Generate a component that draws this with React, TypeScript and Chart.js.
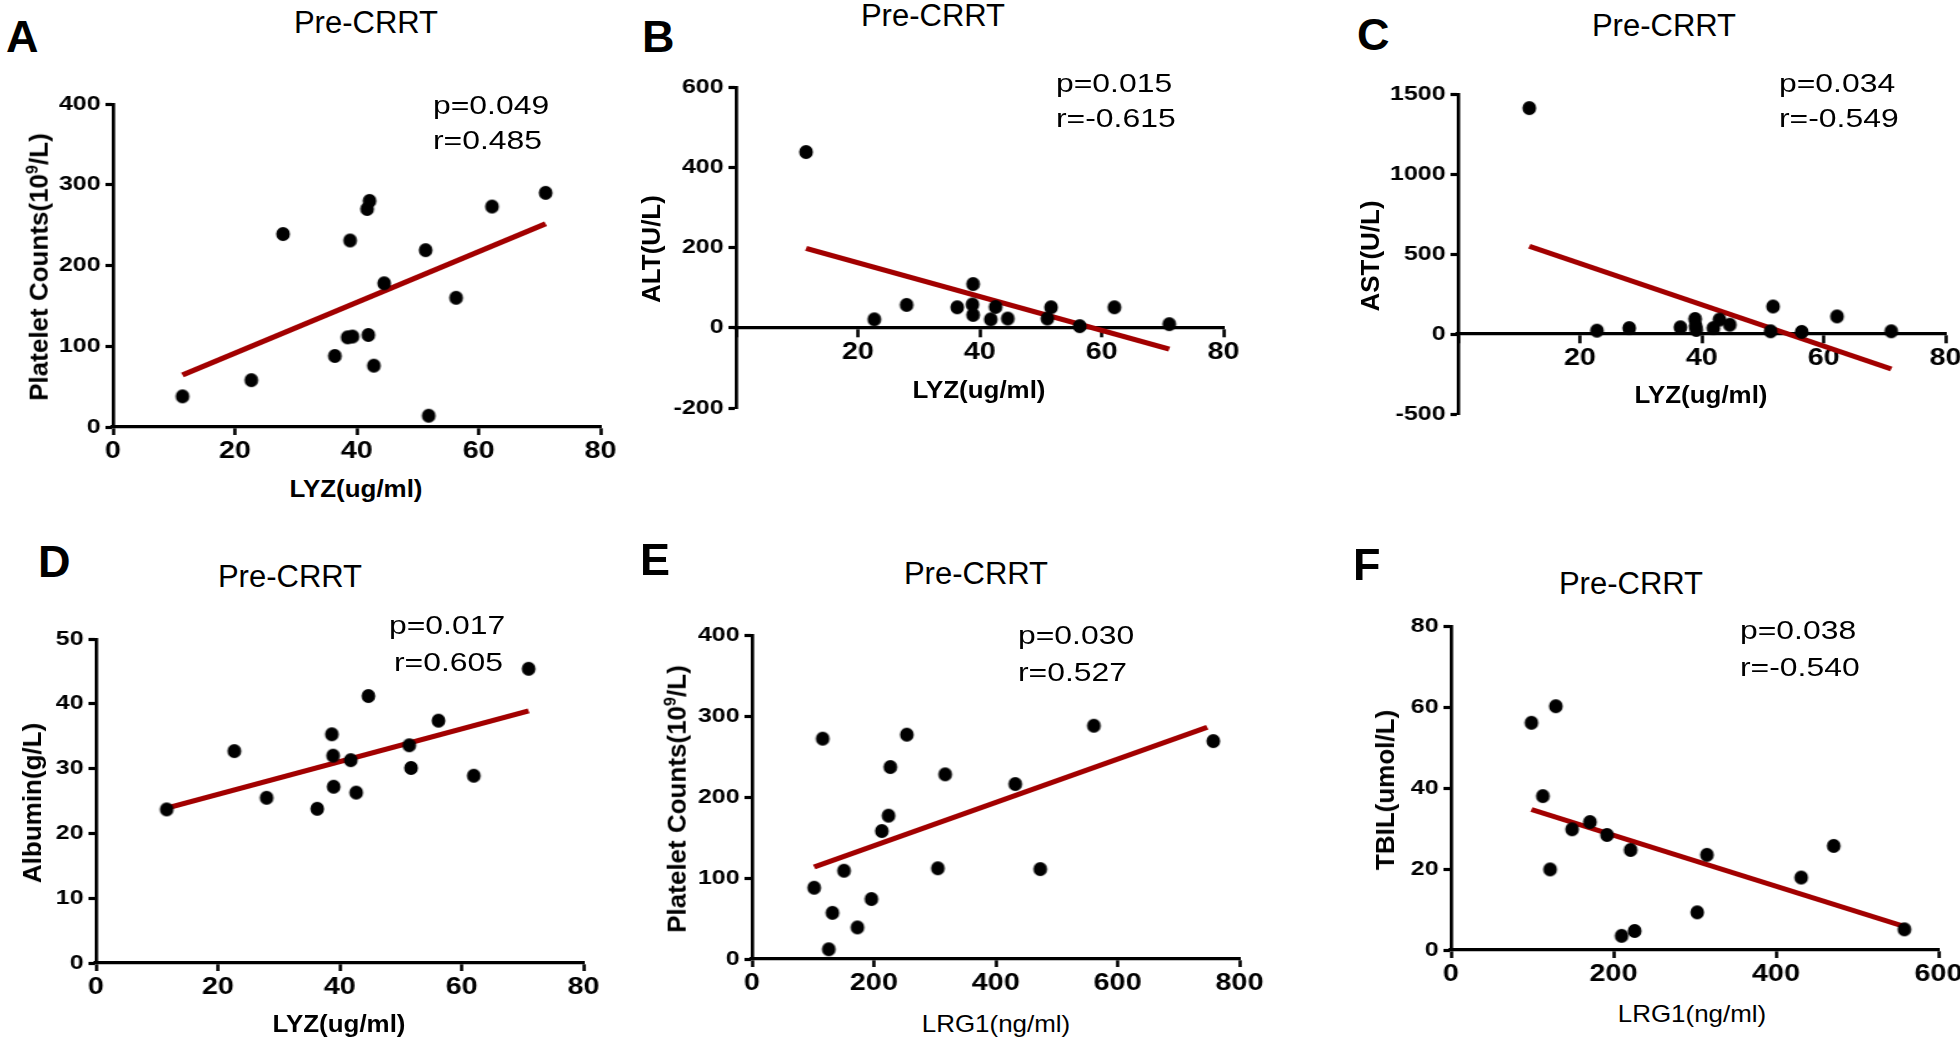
import React, { useEffect, useRef } from "react";
import { Chart, registerables } from "chart.js";

Chart.register(...registerables);

// ---------------- DATA ----------------
// Panel A: LYZ vs Platelet counts
const aLyz = [11.4, 22.7, 27.9, 36.4, 38.5, 39.3, 38.9, 41.7, 42.1, 41.9, 42.8, 44.5, 51.3, 51.8, 56.3, 62.2, 71.0];
const aPlatelet = [38, 58, 239, 88, 111, 112, 231, 270, 280, 114, 76, 178, 219, 14, 160, 273, 290];
const aFitX = [11.4, 71.0];
const aFitY = [64.5, 251.6];

// Panel B: LYZ vs ALT
const bLyz = [11.5, 22.7, 28.0, 36.3, 38.9, 38.8, 38.9, 41.8, 42.6, 44.6, 51.1, 51.7, 56.4, 62.1, 71.1];
const bAlt = [438, 21, 57, 51, 109, 58, 32, 21, 52, 23, 23, 51, 4, 51, 9];
const bFitX = [11.5, 71.1];
const bFitY = [198, -53];

// Panel C: LYZ vs AST
const cLyz = [11.7, 22.8, 28.1, 36.5, 38.9, 39.0, 39.1, 41.9, 42.9, 44.6, 51.3, 51.7, 56.4, 62.2, 71.1];
const cAst = [1412, 21, 37, 42, 94, 50, 25, 37, 90, 58, 17, 172, 13, 110, 17];
const cFitX = [11.7, 71.1];
const cFitY = [548, -219];

// Panel D: LYZ vs Albumin
const dLyz = [11.6, 22.7, 28.0, 36.3, 38.7, 38.9, 39.0, 41.8, 42.7, 44.7, 51.4, 51.7, 56.2, 62.0, 71.0];
const dAlbumin = [23.7, 32.7, 25.5, 23.8, 35.3, 32.0, 27.2, 31.3, 26.3, 41.2, 33.6, 30.1, 37.4, 28.9, 45.4];
const dFitX = [11.6, 71.0];
const dFitY = [23.9, 38.9];

// Panel E: LRG1 vs Platelet counts
const eLrg1 = [102, 116, 126, 132, 151, 173, 196, 213, 224, 227, 254, 305, 317, 432, 473, 561, 757];
const ePlatelet = [88, 272, 12, 57, 109, 39, 74, 158, 177, 237, 277, 112, 228, 216, 111, 288, 269];
const eFitX = [102, 747];
const eFitY = [113.6, 286];

// Panel F: LRG1 vs TBIL
const fLrg1 = [99, 113, 122, 129, 149, 171, 192, 210, 221, 226, 303, 315, 431, 471, 558];
const fTbil = [56.1, 38.0, 19.9, 60.2, 29.8, 31.6, 28.4, 3.5, 24.7, 4.7, 9.3, 23.5, 17.9, 25.7, 5.1];
const fFitX = [99, 558];
const fFitY = [34.7, 5.8];

// Texts
const panelLetters = ["A", "B", "C", "D", "E", "F"];
const panelTitle = "Pre-CRRT";
const pValues = ["p=0.049", "p=0.015", "p=0.034", "p=0.017", "p=0.030", "p=0.038"];
const rValues = ["r=0.485", "r=-0.615", "r=-0.549", "r=0.605", "r=0.527", "r=-0.540"];
const xTitles = ["LYZ(ug/ml)", "LYZ(ug/ml)", "LYZ(ug/ml)", "LYZ(ug/ml)", "LRG1(ng/ml)", "LRG1(ng/ml)"];
const yTitles = ["Platelet Counts(10|9|/L)", "ALT(U/L)", "AST(U/L)", "Albumin(g/L)", "Platelet Counts(10|9|/L)", "TBIL(umol/L)"];

// ---------------- STYLE / LAYOUT ----------------
const STRETCH = 1.25; // the plots are horizontally stretched in the figure
const FONT = '"Liberation Sans", Arial, Helvetica, sans-serif';
const RED = "#a20000";

type Spec = {
  xs: number[];
  ys: number[];
  fitX: number[];
  fitY: number[];
  xMin: number;
  xMax: number;
  xStep: number;
  yMin: number;
  yMax: number;
  yStep: number;
  zeroAxis: boolean;
  area: { l: number; t: number; r: number; b: number }; // page pixels
  letter: { x: number; y: number };
  title: { x: number; y: number };
  stat: { x: number; x2: number; y1: number; y2: number };
  xTitle: { x: number; y: number; bold: boolean };
  yTitle: { x: number; y: number };
};

const specs: Spec[] = [
  {
    xs: aLyz, ys: aPlatelet, fitX: aFitX, fitY: aFitY,
    xMin: 0, xMax: 80, xStep: 20, yMin: 0, yMax: 400, yStep: 100, zeroAxis: false,
    area: { l: 113, t: 104, r: 601, b: 427 },
    letter: { x: 6, y: 52 }, title: { x: 366, y: 33 },
    stat: { x: 433, x2: 433, y1: 115, y2: 150 },
    xTitle: { x: 356, y: 497, bold: true }, yTitle: { x: 35, y: 267 },
  },
  {
    xs: bLyz, ys: bAlt, fitX: bFitX, fitY: bFitY,
    xMin: 0, xMax: 80, xStep: 20, yMin: -200, yMax: 600, yStep: 200, zeroAxis: true,
    area: { l: 736, t: 87, r: 1223, b: 408 },
    letter: { x: 642, y: 52 }, title: { x: 933, y: 26 },
    stat: { x: 1056, x2: 1056, y1: 93, y2: 128 },
    xTitle: { x: 979, y: 398, bold: true }, yTitle: { x: 651, y: 249 },
  },
  {
    xs: cLyz, ys: cAst, fitX: cFitX, fitY: cFitY,
    xMin: 0, xMax: 80, xStep: 20, yMin: -500, yMax: 1500, yStep: 500, zeroAxis: true,
    area: { l: 1458, t: 94, r: 1945, b: 414 },
    letter: { x: 1357, y: 50 }, title: { x: 1664, y: 36 },
    stat: { x: 1779, x2: 1779, y1: 93, y2: 128 },
    xTitle: { x: 1701, y: 403, bold: true }, yTitle: { x: 1370, y: 256 },
  },
  {
    xs: dLyz, ys: dAlbumin, fitX: dFitX, fitY: dFitY,
    xMin: 0, xMax: 80, xStep: 20, yMin: 0, yMax: 50, yStep: 10, zeroAxis: false,
    area: { l: 96, t: 639, r: 584, b: 963 },
    letter: { x: 38, y: 577 }, title: { x: 290, y: 587 },
    stat: { x: 389, x2: 394, y1: 635, y2: 672 },
    xTitle: { x: 339, y: 1032, bold: true }, yTitle: { x: 32, y: 803 },
  },
  {
    xs: eLrg1, ys: ePlatelet, fitX: eFitX, fitY: eFitY,
    xMin: 0, xMax: 800, xStep: 200, yMin: 0, yMax: 400, yStep: 100, zeroAxis: false,
    area: { l: 752, t: 635, r: 1240, b: 959 },
    letter: { x: 640, y: 575 }, title: { x: 976, y: 584 },
    stat: { x: 1018, x2: 1018, y1: 645, y2: 682 },
    xTitle: { x: 996, y: 1032, bold: false }, yTitle: { x: 673, y: 799 },
  },
  {
    xs: fLrg1, ys: fTbil, fitX: fFitX, fitY: fFitY,
    xMin: 0, xMax: 600, xStep: 200, yMin: 0, yMax: 80, yStep: 20, zeroAxis: false,
    area: { l: 1451, t: 626, r: 1938, b: 950 },
    letter: { x: 1353, y: 580 }, title: { x: 1631, y: 594 },
    stat: { x: 1740, x2: 1740, y1: 640, y2: 677 },
    xTitle: { x: 1692, y: 1022, bold: false }, yTitle: { x: 1385, y: 790 },
  },
];

// canvas-space (unstretched) paddings around the plot area
const PAD_L = 64;
const PAD_T = 25;
const PAD_R = 30;
const PAD_B = 48;

let dotImage: HTMLCanvasElement | null = null;
function getDot(): HTMLCanvasElement {
  if (dotImage) return dotImage;
  const ry = 6.9;
  const rx = ry / STRETCH;
  const c = document.createElement("canvas");
  c.width = Math.ceil(rx * 2 + 2);
  c.height = Math.ceil(ry * 2 + 2);
  const g = c.getContext("2d")!;
  g.fillStyle = "#000";
  g.beginPath();
  g.ellipse(c.width / 2, c.height / 2, rx, ry, 0, 0, Math.PI * 2);
  g.fill();
  dotImage = c;
  return c;
}

function ScatterPanel({ spec }: { spec: Spec }) {
  const ref = useRef<HTMLCanvasElement>(null);
  const plotW = (spec.area.r - spec.area.l) / STRETCH;
  const w = Math.round(plotW + PAD_L + PAD_R);
  const h = spec.area.b - spec.area.t + PAD_T + PAD_B;

  useEffect(() => {
    if (!ref.current) return;
    const yTickFont = { family: FONT, size: 20, weight: "bold" as const };
    const xTickFont = { family: FONT, size: 23, weight: "bold" as const };
    const chart = new Chart(ref.current, {
      type: "scatter",
      data: {
        datasets: [
          {
            data: spec.xs.map((x, i) => ({ x, y: spec.ys[i] })),
            backgroundColor: "#000",
            borderColor: "#000",
            pointStyle: getDot() as any,
            pointRadius: 6,
            pointHoverRadius: 6,
            borderWidth: 0,
            showLine: false,
            clip: false as any,
          },
          {
            data: spec.fitX.map((x, i) => ({ x, y: spec.fitY[i] })),
            borderColor: RED,
            backgroundColor: RED,
            borderWidth: 5,
            pointRadius: 0,
            showLine: true,
            fill: false,
            clip: false as any,
          },
        ],
      },
      options: {
        responsive: false,
        animation: false,
        devicePixelRatio: 1,
        events: [],
        layout: { padding: { left: 0, top: PAD_T, right: PAD_R, bottom: spec.zeroAxis ? PAD_B : 0 } },
        plugins: { legend: { display: false }, tooltip: { enabled: false }, title: { display: false } },
        scales: {
          x: {
            type: "linear",
            min: spec.xMin,
            max: spec.xMax,
            position: (spec.zeroAxis ? { y: 0 } : "bottom") as any,
            ticks: {
              stepSize: spec.xStep,
              font: xTickFont,
              color: "#000",
              padding: 3,
              maxRotation: 0,
              autoSkip: false,
              callback: (v: any) => (spec.zeroAxis && Number(v) === 0 ? "" : String(v)),
            },
            grid: {
              display: true,
              drawOnChartArea: false,
              drawTicks: true,
              tickLength: 8,
              tickWidth: 2.6,
              tickColor: "#000",
              color: "#000",
            },
            border: { display: true, color: "#000", width: 3.3 },
            afterFit: (s: any) => {
              s.height = PAD_B;
            },
          },
          y: {
            type: "linear",
            min: spec.yMin,
            max: spec.yMax,
            position: "left",
            ticks: {
              stepSize: spec.yStep,
              font: yTickFont,
              color: "#000",
              padding: 4,
              autoSkip: false,
              callback: (v: any) => String(v),
            },
            grid: {
              display: true,
              drawOnChartArea: false,
              drawTicks: true,
              tickLength: 6,
              tickWidth: 3.2,
              tickColor: "#000",
              color: "#000",
            },
            border: { display: true, color: "#000", width: 2.7 },
            afterFit: (s: any) => {
              s.width = PAD_L;
            },
          },
        },
      },
    });
    return () => chart.destroy();
  }, [spec]);

  return (
    <canvas
      ref={ref}
      width={w}
      height={h}
      style={{
        position: "absolute",
        left: spec.area.l - PAD_L * STRETCH,
        top: spec.area.t - PAD_T,
        width: w,
        height: h,
        transform: `scaleX(${STRETCH})`,
        transformOrigin: "0 0",
      }}
    />
  );
}

function Txt({
  x,
  y,
  size,
  bold,
  center,
  sx = 1,
  children,
}: {
  x: number;
  y: number;
  size: number;
  bold?: boolean;
  center?: boolean;
  sx?: number;
  children: React.ReactNode;
}) {
  return (
    <div
      style={{
        position: "absolute",
        left: x,
        top: y - 0.8465 * size,
        fontFamily: FONT,
        fontSize: size,
        lineHeight: `${size}px`,
        fontWeight: bold ? "bold" : "normal",
        whiteSpace: "nowrap",
        color: "#000",
        transformOrigin: center ? "50% 50%" : "0 0",
        transform: `${center ? "translateX(-50%) " : ""}scaleX(${sx})`,
      }}
    >
      {children}
    </div>
  );
}

function YTitle({ x, y, label }: { x: number; y: number; label: string }) {
  const parts = label.split("|");
  return (
    <div
      style={{
        position: "absolute",
        left: x,
        top: y,
        fontFamily: FONT,
        fontSize: 26,
        lineHeight: "30px",
        fontWeight: "bold",
        whiteSpace: "nowrap",
        color: "#000",
        transform: "translate(-50%, -50%) rotate(-90deg)",
      }}
    >
      {parts.length === 3 ? (
        <>
          {parts[0]}
          <span style={{ fontSize: "0.62em", verticalAlign: "0.6em" }}>{parts[1]}</span>
          {parts[2]}
        </>
      ) : (
        label
      )}
    </div>
  );
}

export default function App() {
  useEffect(() => {
    document.body.style.overflow = "hidden";
  }, []);
  return (
    <div
      style={{
        position: "absolute",
        left: 0,
        top: 0,
        width: 1960,
        height: 1043,
        background: "#fff",
        overflow: "hidden",
      }}
    >
      {specs.map((s, i) => (
        <React.Fragment key={i}>
          <ScatterPanel spec={s} />
          <Txt x={s.letter.x} y={s.letter.y} size={45} bold>
            {panelLetters[i]}
          </Txt>
          <Txt x={s.title.x} y={s.title.y} size={31} center>
            {panelTitle}
          </Txt>
          <Txt x={s.stat.x} y={s.stat.y1} size={25.5} sx={STRETCH}>
            {pValues[i]}
          </Txt>
          <Txt x={s.stat.x2} y={s.stat.y2} size={25.5} sx={STRETCH}>
            {rValues[i]}
          </Txt>
          <Txt x={s.xTitle.x} y={s.xTitle.y} size={24} bold={s.xTitle.bold} center sx={1.08}>
            {xTitles[i]}
          </Txt>
          <YTitle x={s.yTitle.x} y={s.yTitle.y} label={yTitles[i]} />
        </React.Fragment>
      ))}
    </div>
  );
}
